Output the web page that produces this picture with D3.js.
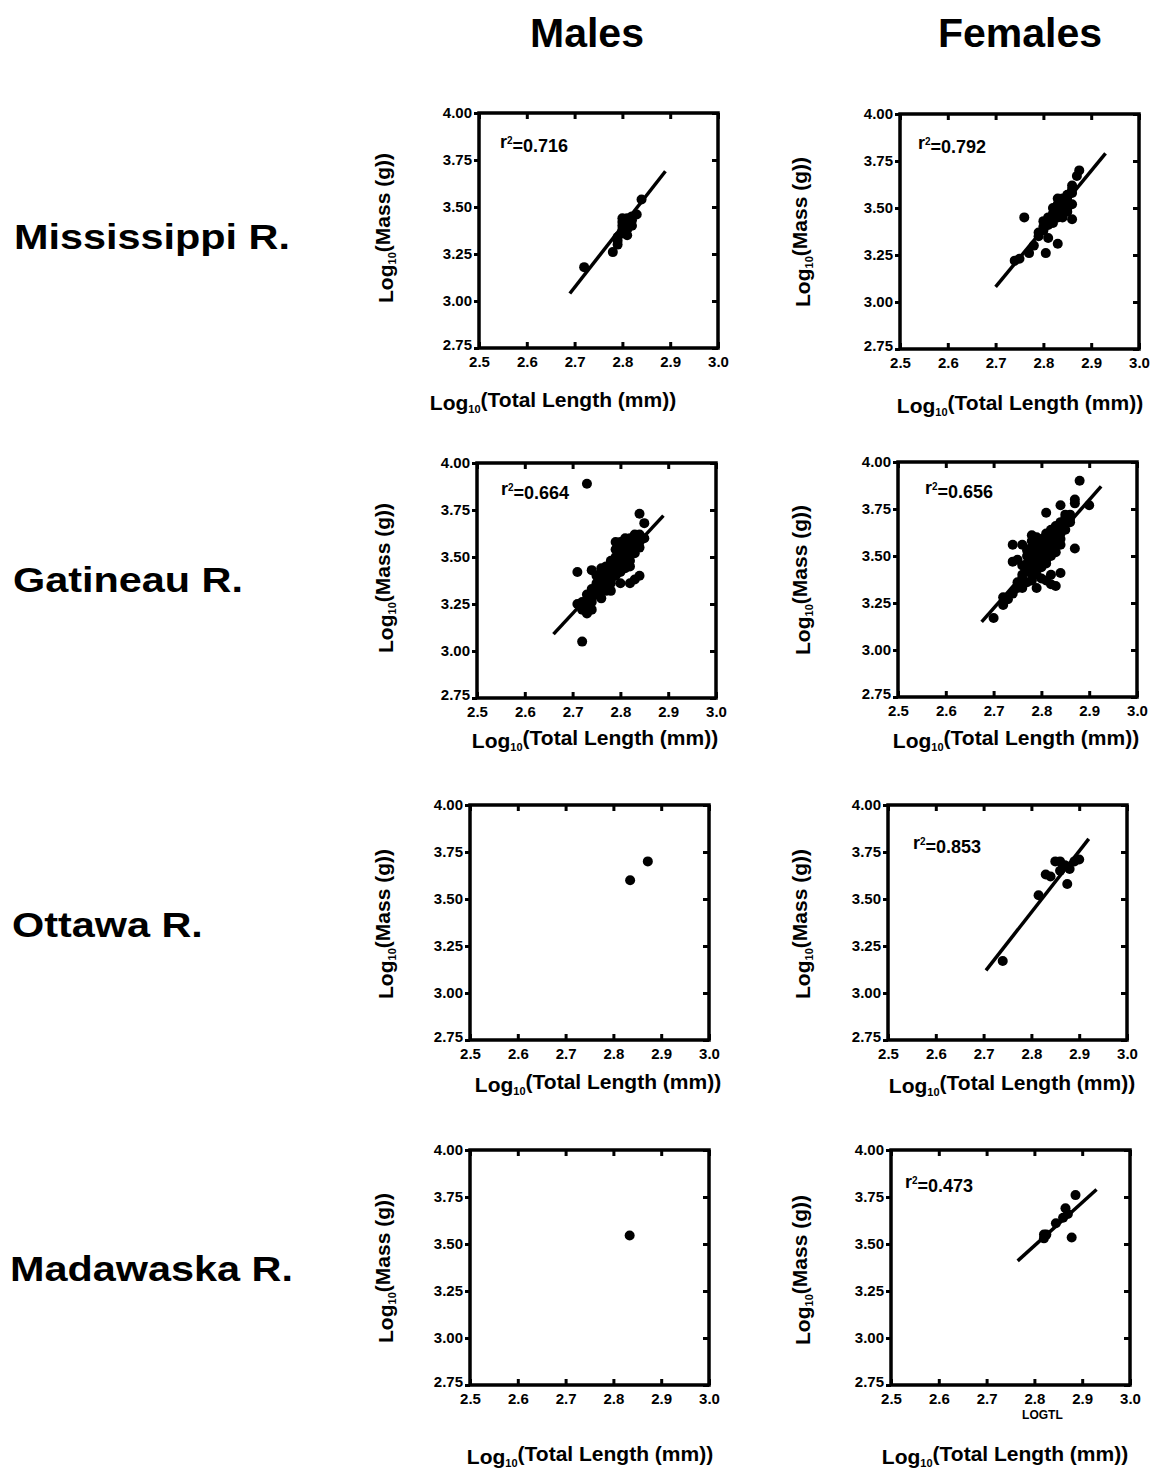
<!DOCTYPE html>
<html>
<head>
<meta charset="utf-8">
<script src="https://cdn.jsdelivr.net/npm/d3@7"></script>
<style>
  body { margin: 0; background: #fff; }
  text { font-family: "Liberation Sans", Arial, sans-serif; font-weight: bold; fill: #000; }
</style>
</head>
<body>
<div id="chart"></div>
<script>
// axis ticks
var xTicks = [2.5, 2.6, 2.7, 2.8, 2.9, 3.0];
var yTicks = [2.75, 3.00, 3.25, 3.50, 3.75, 4.00];
var sexes = ['Males', 'Females'];
var rivers = ['Mississippi R.', 'Gatineau R.', 'Ottawa R.', 'Madawaska R.'];

// log10(total length), log10(mass)
var missM = [[2.72,3.18],[2.78,3.26],[2.79,3.30],[2.79,3.32],[2.79,3.34],[2.80,3.36],[2.80,3.38],[2.80,3.40],
  [2.80,3.42],[2.80,3.44],[2.81,3.35],[2.81,3.38],[2.81,3.40],[2.81,3.42],[2.81,3.44],[2.82,3.40],
  [2.82,3.43],[2.82,3.45],[2.83,3.46],[2.84,3.54]];
var missF = [[2.75,3.23],[2.74,3.22],[2.76,3.45],[2.77,3.26],[2.78,3.30],[2.79,3.35],[2.79,3.37],[2.80,3.38],
  [2.80,3.40],[2.80,3.43],[2.805,3.26],[2.81,3.41],[2.81,3.43],[2.81,3.45],[2.81,3.34],[2.82,3.42],
  [2.82,3.44],[2.82,3.46],[2.82,3.47],[2.82,3.50],[2.83,3.31],[2.83,3.45],[2.83,3.48],[2.83,3.50],
  [2.83,3.52],[2.83,3.55],[2.84,3.45],[2.84,3.48],[2.84,3.50],[2.84,3.53],[2.84,3.55],[2.85,3.48],
  [2.85,3.50],[2.85,3.52],[2.85,3.54],[2.85,3.56],[2.85,3.57],[2.86,3.44],[2.86,3.52],[2.86,3.58],
  [2.86,3.60],[2.86,3.62],[2.87,3.67],[2.875,3.70]];
var gatM = [[2.73,3.89],[2.72,3.05],[2.71,3.25],[2.71,3.42],[2.72,3.22],[2.72,3.24],[2.72,3.26],[2.73,3.20],
  [2.73,3.25],[2.73,3.30],[2.74,3.22],[2.74,3.26],[2.74,3.28],[2.74,3.33],[2.74,3.43],[2.75,3.30],
  [2.75,3.32],[2.75,3.36],[2.75,3.40],[2.76,3.28],[2.76,3.32],[2.76,3.35],[2.76,3.38],[2.76,3.42],
  [2.76,3.44],[2.77,3.32],[2.77,3.35],[2.77,3.38],[2.77,3.42],[2.77,3.45],[2.78,3.32],[2.78,3.36],
  [2.78,3.38],[2.78,3.40],[2.78,3.44],[2.78,3.48],[2.79,3.40],[2.79,3.42],[2.79,3.44],[2.79,3.46],
  [2.79,3.50],[2.79,3.54],[2.79,3.58],[2.80,3.36],[2.80,3.42],[2.80,3.46],[2.80,3.48],[2.80,3.50],
  [2.80,3.52],[2.80,3.55],[2.80,3.58],[2.81,3.44],[2.81,3.48],[2.81,3.50],[2.81,3.52],[2.81,3.55],
  [2.81,3.57],[2.81,3.60],[2.82,3.36],[2.82,3.45],[2.82,3.48],[2.82,3.52],[2.82,3.55],[2.82,3.58],
  [2.82,3.60],[2.83,3.38],[2.83,3.52],[2.83,3.56],[2.83,3.58],[2.83,3.62],[2.84,3.40],[2.84,3.55],
  [2.84,3.58],[2.84,3.62],[2.84,3.73],[2.85,3.60],[2.85,3.68]];
var gatF = [[2.70,3.17],[2.72,3.24],[2.72,3.28],[2.73,3.27],[2.74,3.30],[2.74,3.47],[2.74,3.56],[2.75,3.33],
  [2.75,3.36],[2.75,3.48],[2.76,3.33],[2.76,3.38],[2.76,3.40],[2.76,3.45],[2.76,3.56],[2.77,3.36],
  [2.77,3.42],[2.77,3.46],[2.77,3.50],[2.77,3.53],[2.78,3.37],[2.78,3.40],[2.78,3.44],[2.78,3.48],
  [2.78,3.52],[2.78,3.55],[2.78,3.58],[2.78,3.61],[2.79,3.33],[2.79,3.40],[2.79,3.43],[2.79,3.46],
  [2.79,3.50],[2.79,3.52],[2.79,3.55],[2.79,3.57],[2.79,3.60],[2.80,3.38],[2.80,3.44],[2.80,3.46],
  [2.80,3.48],[2.80,3.50],[2.80,3.52],[2.80,3.54],[2.80,3.56],[2.80,3.59],[2.81,3.37],[2.81,3.46],
  [2.81,3.48],[2.81,3.50],[2.81,3.53],[2.81,3.56],[2.81,3.58],[2.81,3.60],[2.81,3.62],[2.81,3.73],
  [2.82,3.35],[2.82,3.40],[2.82,3.50],[2.82,3.54],[2.82,3.57],[2.82,3.60],[2.82,3.62],[2.82,3.64],
  [2.83,3.34],[2.83,3.52],[2.83,3.55],[2.83,3.58],[2.83,3.60],[2.83,3.63],[2.83,3.66],[2.84,3.41],
  [2.84,3.56],[2.84,3.59],[2.84,3.62],[2.84,3.65],[2.84,3.68],[2.84,3.77],[2.85,3.64],[2.85,3.67],
  [2.85,3.70],[2.85,3.72],[2.86,3.68],[2.86,3.70],[2.86,3.72],[2.87,3.54],[2.87,3.78],[2.87,3.80],
  [2.88,3.90],[2.90,3.77]];
var ottM = [[2.835,3.60],[2.872,3.70]];
var ottF = [[2.74,3.17],[2.815,3.52],[2.83,3.63],[2.84,3.62],[2.85,3.70],[2.86,3.70],[2.86,3.65],
  [2.87,3.68],[2.875,3.58],[2.88,3.66],[2.89,3.70],[2.90,3.71]];
var madM = [[2.834,3.545]];
var madF = [[2.82,3.53],[2.82,3.55],[2.825,3.55],[2.845,3.61],[2.86,3.64],[2.865,3.69],[2.87,3.66],
  [2.878,3.535],[2.886,3.76]];

// regression line end points (null = no fit drawn)
var missMFit = [[2.69,3.04],[2.89,3.69]];
var missFFit = [[2.70,3.08],[2.93,3.79]];
var gatMFit = [[2.66,3.09],[2.89,3.72]];
var gatFFit = [[2.675,3.15],[2.925,3.87]];
var ottFFit = [[2.705,3.12],[2.92,3.82]];
var madFFit = [[2.765,3.41],[2.93,3.79]];

var r2Labels = ['0.716', '0.792', '0.664', '0.656', null, '0.853', null, '0.473'];

var panelData = [missM, missF, gatM, gatF, ottM, ottF, madM, madF];
var panelFits = [missMFit, missFFit, gatMFit, gatFFit, null, ottFFit, null, madFFit];

// layout of the eight frames (left, top), title positions
var boxW = 239, boxH = 235;
var layout = [
  {left: 479, top: 113, xt: [553, 410], yt: [386, 228], r2: [21, 35]},
  {left: 900, top: 114, xt: [1020, 413], yt: [803, 232], r2: [18, 35]},
  {left: 477, top: 463, xt: [595, 748], yt: [386, 578], r2: [24, 32]},
  {left: 898, top: 462, xt: [1016, 748], yt: [803, 580], r2: [27, 32]},
  {left: 470, top: 805, xt: [598, 1092], yt: [386, 924], r2: null},
  {left: 888, top: 805, xt: [1012, 1093], yt: [803, 924], r2: [25, 44]},
  {left: 470, top: 1150, xt: [590, 1464], yt: [386, 1268], r2: null},
  {left: 891, top: 1150, xt: [1005, 1464], yt: [803, 1270], r2: [14, 38]}
];

var svg = d3.select("#chart").append("svg").attr("width", 1154).attr("height", 1471);

// column headers
var headerX = [587, 1020];
svg.selectAll(".header").data(sexes).enter().append("text")
  .attr("x", function(d, i){ return headerX[i]; })
  .attr("y", 47)
  .attr("text-anchor", "middle")
  .style("font-size", "41px")
  .text(function(d){ return d; });

// row labels
var rowBase = [[14, 249], [13, 592], [12, 937], [10, 1281]];
svg.selectAll(".river").data(rivers).enter().append("text")
  .attr("transform", function(d, i){ return "translate(" + rowBase[i][0] + "," + rowBase[i][1] + ") scale(1.15,1)"; })
  .style("font-size", "36px")
  .text(function(d){ return d; });

var fmtY = d3.format(".2f"), fmtX = d3.format(".1f");

panelData.forEach(function(pts, i){
  var L = layout[i];
  var g = svg.append("g").attr("transform", "translate(" + L.left + "," + L.top + ")");
  var x = d3.scaleLinear().domain([2.5, 3.0]).range([0, boxW]);
  var y = d3.scaleLinear().domain([2.75, 4.0]).range([boxH, 0]);

  // left axis with labels, ticks outward
  var ax = g.append("g").call(d3.axisLeft(y).tickValues(yTicks).tickFormat(fmtY).tickSizeInner(5).tickSizeOuter(0).tickPadding(2));
  // bottom axis, ticks inward
  var bx = g.append("g").attr("transform", "translate(0," + boxH + ")")
    .call(d3.axisBottom(x).tickValues(xTicks).tickFormat(fmtX).tickSizeInner(-6).tickSizeOuter(0).tickPadding(8));
  var tx = g.append("g").call(d3.axisTop(x).tickValues(xTicks).tickFormat("").tickSizeInner(-6).tickSizeOuter(0));
  var rx = g.append("g").attr("transform", "translate(" + boxW + ",0)")
    .call(d3.axisRight(y).tickValues(yTicks).tickFormat("").tickSizeInner(-6).tickSizeOuter(0));
  [ax, bx, tx, rx].forEach(function(a){
    a.select(".domain").remove();
    a.selectAll("line").attr("stroke", "#000").attr("stroke-width", 3);
    a.selectAll("text").style("font-size", "15px").style("font-family", "'Liberation Sans', Arial, sans-serif")
      .style("font-weight", "bold").attr("fill", "#000");
  });
  ax.selectAll("text").attr("dy", function(d){ return d === 2.75 ? "0.1em" : "0.32em"; });

  g.append("rect").attr("width", boxW).attr("height", boxH)
    .attr("fill", "none").attr("stroke", "#000").attr("stroke-width", 3.5);

  var fit = panelFits[i];
  if(fit){
    g.append("line")
      .attr("x1", x(fit[0][0])).attr("y1", y(fit[0][1]))
      .attr("x2", x(fit[1][0])).attr("y2", y(fit[1][1]))
      .attr("stroke", "#000").attr("stroke-width", 3.5);
  }

  g.selectAll("circle").data(pts).enter().append("circle")
    .attr("cx", function(d){ return x(d[0]); })
    .attr("cy", function(d){ return y(d[1]); })
    .attr("r", 5).attr("fill", "#000");

  if(r2Labels[i]){
    var t = g.append("text").attr("x", L.r2[0]).attr("y", L.r2[1]).style("font-size", "18px");
    t.append("tspan").text("r");
    t.append("tspan").attr("dy", "-0.45em").style("font-size", "10px").text("2");
    t.append("tspan").attr("dy", "0.45em").text("=" + r2Labels[i]);
  }

  // x title
  var xt = svg.append("text").attr("x", L.xt[0]).attr("y", L.xt[1])
    .attr("text-anchor", "middle").style("font-size", "21px");
  xt.append("tspan").text("Log");
  xt.append("tspan").attr("dy", "0.3em").style("font-size", "11px").text("10");
  xt.append("tspan").attr("dy", "-0.3em").text("(Total Length (mm))");

  // y title
  var yt = svg.append("text")
    .attr("transform", "translate(" + (L.yt[0] + 7) + "," + L.yt[1] + ") rotate(-90)")
    .attr("text-anchor", "middle").style("font-size", "21px");
  yt.append("tspan").text("Log");
  yt.append("tspan").attr("dy", "0.3em").style("font-size", "11px").text("10");
  yt.append("tspan").attr("dy", "-0.3em").text("(Mass (g))");

  if(i === 7){
    g.append("text").attr("x", x(2.8) + 8).attr("y", boxH + 34)
      .attr("text-anchor", "middle").style("font-size", "12px").text("LOGTL");
  }
});
</script>
</body>
</html>
